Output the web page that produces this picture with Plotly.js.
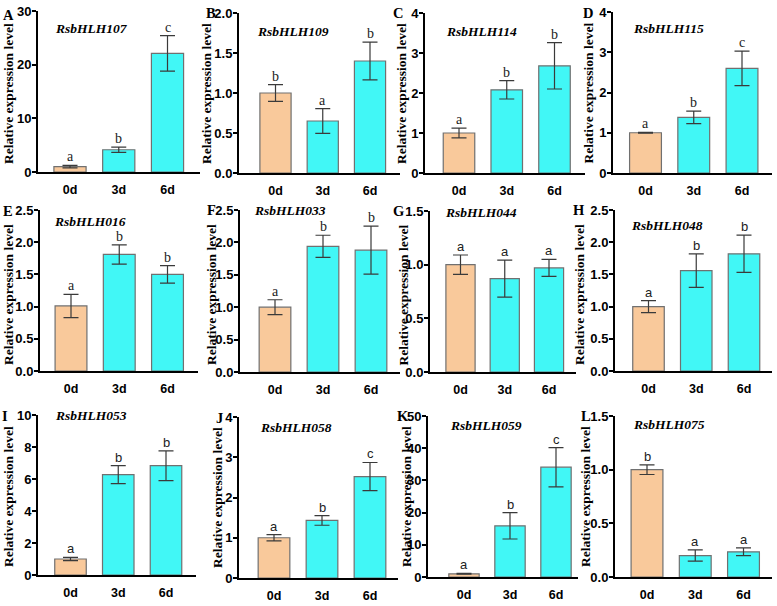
<!DOCTYPE html>
<html>
<head>
<meta charset="utf-8">
<script src="https://cdn.plot.ly/plotly-3.0.1.min.js"></script>
<style>
  html, body { margin: 0; padding: 0; background: #fff; }
  #chart { width: 777px; height: 606px; }
</style>
</head>
<body>
<div id="chart"></div>
<script>
// Relative expression of RsbHLH genes at 0, 3 and 6 days (mean ± SD, letters = significance groups)
const days = ['0d', '3d', '6d'];

const mean107 = [1.0, 4.15, 22.1];  const err107 = [0.25, 0.5, 3.3];   const sig107 = ['a', 'b', 'c'];
const mean109 = [1.0, 0.65, 1.40];  const err109 = [0.105, 0.155, 0.235]; const sig109 = ['b', 'a', 'b'];
const mean114 = [1.0, 2.08, 2.68];  const err114 = [0.12, 0.23, 0.58];  const sig114 = ['a', 'b', 'b'];
const mean115 = [1.0, 1.38, 2.60];  const err115 = [0.01, 0.155, 0.43]; const sig115 = ['a', 'b', 'c'];
const mean016 = [1.01, 1.81, 1.50]; const err016 = [0.18, 0.15, 0.135]; const sig016 = ['a', 'b', 'b'];
const mean033 = [1.0, 1.94, 1.88];  const err033 = [0.115, 0.17, 0.37]; const sig033 = ['a', 'b', 'b'];
const mean044 = [1.0, 0.87, 0.97];  const err044 = [0.09, 0.173, 0.08]; const sig044 = ['a', 'a', 'a'];
const mean048 = [1.0, 1.56, 1.82];  const err048 = [0.093, 0.26, 0.29]; const sig048 = ['a', 'b', 'b'];
const mean053 = [1.0, 6.27, 6.83];  const err053 = [0.1, 0.56, 0.93];   const sig053 = ['a', 'b', 'b'];
const mean058 = [1.0, 1.43, 2.52];  const err058 = [0.08, 0.12, 0.35];  const sig058 = ['a', 'b', 'c'];
const mean059 = [1.0, 15.9, 34.1];  const err059 = [0.15, 4.1, 6.1];    const sig059 = ['a', 'b', 'c'];
const mean075 = [1.0, 0.20, 0.235]; const err075 = [0.045, 0.053, 0.036]; const sig075 = ['b', 'a', 'a'];

const genes = ['RsbHLH107', 'RsbHLH109', 'RsbHLH114', 'RsbHLH115',
               'RsbHLH016', 'RsbHLH033', 'RsbHLH044', 'RsbHLH048',
               'RsbHLH053', 'RsbHLH058', 'RsbHLH059', 'RsbHLH075'];
const panelTags = ['A', 'B', 'C', 'D', 'E', 'F', 'G', 'H', 'I', 'J', 'K', 'L'];
const yMax  = [30, 2.0, 4, 4, 2.5, 2.5, 1.5, 2.5, 10, 4, 50, 1.5];
const yStep = [10, 0.5, 1, 1, 0.5, 0.5, 0.5, 0.5, 2, 1, 10, 0.5];

const series = [
  [mean107, err107, sig107], [mean109, err109, sig109], [mean114, err114, sig114], [mean115, err115, sig115],
  [mean016, err016, sig016], [mean033, err033, sig033], [mean044, err044, sig044], [mean048, err048, sig048],
  [mean053, err053, sig053], [mean058, err058, sig058], [mean059, err059, sig059], [mean075, err075, sig075]
];

// ---- layout geometry (pixels in a 777 x 606 canvas) ----
const W = 777, H = 606;
const fx = v => v / W;
const fy = v => 1 - v / H;

// [axisLeft, axisRight, plotTop, plotBottom, firstBarCentre, barSpacing]
const frames = [
  [38, 200, 11, 172, 70, 48.75],   [239, 400, 13, 173, 275.5, 47.25],
  [425, 585, 13, 173, 459, 47.75], [613, 772, 12, 173, 645.5, 48.25],
  [40, 198, 210, 371, 71, 48.25],  [240, 400, 210, 372, 275, 48],
  [430, 576, 211, 372, 460.5, 44.25], [615, 772, 210, 371, 648.5, 47.75],
  [38, 196, 415, 575, 70.5, 47.75], [239, 398, 417, 578, 274, 48],
  [428, 578, 416, 577, 464, 46],   [615, 772, 416, 577, 647, 48.25]
];
// gene label [left x, centre y], panel tag [x, y], y-title centre x
const geneAt = [[53, 28], [255, 32], [444, 32], [631, 29], [52, 221], [252, 211],
                [443, 212], [629, 225], [53, 415], [258, 427], [448, 425], [631, 424]];
const tagAt = [[8, 15], [211, 13], [398, 13], [588, 13], [8, 211], [211, 210],
               [398, 211], [579, 210], [5, 416], [219, 418], [403, 416], [586, 416]];
const yTitleX = [8.5, 206.5, 401.5, 588, 8, 211, 402.5, 579, 8, 217, 406, 585];
const rowTitleY = [93.5, 295, 497];

const peach = '#F9C99B';
const cyan = '#41F7F6';
const serif = 'Liberation Serif, Times New Roman, serif';
const sans = 'Liberation Sans, Arial, sans-serif';

const traces = [];
const annotations = [];
const layout = {
  width: W, height: H,
  margin: {l: 0, r: 0, t: 0, b: 0},
  paper_bgcolor: '#ffffff', plot_bgcolor: '#ffffff',
  showlegend: false,
  bargap: 0.34,
  annotations: annotations
};

series.forEach((s, i) => {
  const n = i + 1;
  const [mean, err, sig] = s;
  const [L, R, top, bot, c0, sp] = frames[i];
  const xa = 'x' + (n === 1 ? '' : n);
  const ya = 'y' + (n === 1 ? '' : n);

  traces.push({
    type: 'bar',
    x: days,
    y: mean,
    xaxis: xa, yaxis: ya,
    marker: {
      color: days.map((d, k) => (k === 0 ? peach : cyan)),
      line: {color: '#707070', width: 1.2}
    },
    error_y: {type: 'data', array: err, visible: true, color: '#3a3a3a', thickness: 1.2, width: 7.5},
    hoverinfo: 'skip'
  });

  const ticks = [];
  for (let v = 0; v <= yMax[i] + 1e-9; v += yStep[i]) ticks.push(+v.toFixed(3));
  const decimals = yStep[i] < 1 ? 1 : 0;

  layout['xaxis' + (n === 1 ? '' : n)] = {
    domain: [fx(L), fx(R)],
    anchor: ya,
    type: 'category',
    range: [(L - c0) / sp, (R - c0) / sp],
    showline: true, linecolor: '#000', linewidth: 2,
    ticks: '', showgrid: false, zeroline: false,
    ticklabelstandoff: 5,
    tickfont: {family: sans, size: 12.5, color: '#000', weight: 700},
    fixedrange: true
  };
  layout['yaxis' + (n === 1 ? '' : n)] = {
    domain: [fy(bot), fy(top)],
    anchor: xa,
    range: [0, yMax[i]],
    tickmode: 'array',
    tickvals: ticks,
    ticktext: ticks.map(v => v.toFixed(decimals)),
    showline: true, linecolor: '#000', linewidth: 2,
    ticks: 'outside', ticklen: 4, tickwidth: 2, tickcolor: '#000',
    ticklabelstandoff: -2,
    showgrid: false, zeroline: false,
    tickfont: {family: sans, size: 13, color: '#000', weight: 700},
    fixedrange: true
  };

  // significance letters above each error bar
  const letterFont = i < 6 ? {family: serif, size: 14, color: '#222'} : {family: sans, size: 13, color: '#222'};
  days.forEach((d, k) => {
    annotations.push({
      xref: xa, yref: ya, x: d, y: mean[k] + err[k],
      text: sig[k], showarrow: false, xanchor: 'center', yanchor: 'bottom', yshift: -1,
      font: letterFont
    });
  });

  // gene name
  annotations.push({
    xref: 'paper', yref: 'paper', x: fx(geneAt[i][0]), y: fy(geneAt[i][1]),
    text: '<b><i>' + genes[i] + '</i></b>', showarrow: false,
    xanchor: 'left', yanchor: 'middle',
    font: {family: serif, size: 13.5, color: '#000'}
  });

  // panel tag
  annotations.push({
    xref: 'paper', yref: 'paper', x: fx(tagAt[i][0]), y: fy(tagAt[i][1]),
    text: '<b>' + panelTags[i] + '</b>', showarrow: false,
    xanchor: 'center', yanchor: 'middle',
    font: {family: serif, size: 14.5, color: '#000'}
  });

  // y-axis title
  annotations.push({
    xref: 'paper', yref: 'paper', x: fx(yTitleX[i]), y: fy(rowTitleY[Math.floor(i / 4)]),
    text: '<b>Relative expression level</b>', showarrow: false, textangle: -90,
    xanchor: 'center', yanchor: 'middle',
    font: {family: serif, size: 13.5, color: '#000'}
  });
});

Plotly.newPlot('chart', traces, layout, {displayModeBar: false, staticPlot: true});
</script>
</body>
</html>
